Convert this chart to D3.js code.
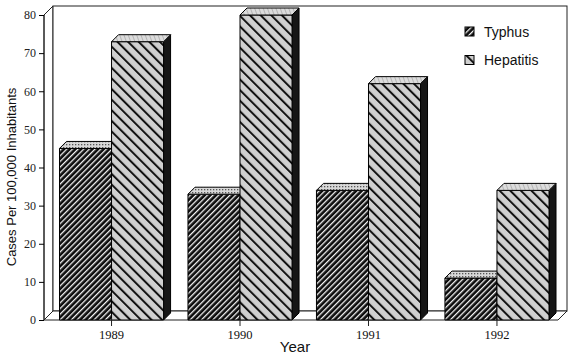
<!DOCTYPE html>
<html>
<head>
<meta charset="utf-8">
<script src="https://cdn.jsdelivr.net/npm/d3@7"></script>
<style>
  body { margin: 0; background: #fff; }
  svg { display: block; }
</style>
</head>
<body>
<script>
// chart data
var years = ['1989', '1990', '1991', '1992'];
var seriesNames = ['Typhus', 'Hepatitis'];
var typhus = [45, 33, 34, 11];
var hepatitis = [73, 80, 62, 34];
var yTicks = [0, 10, 20, 30, 40, 50, 60, 70, 80];

var W = 573, H = 360;
var wallD = 9;   // depth of the back wall
var barD = 7;    // depth of each bar

var svg = d3.select('body').append('svg').attr('width', W).attr('height', H);
var defs = svg.append('defs');

// patterns
var p = defs.append('pattern').attr('id', 'tyFront').attr('patternUnits', 'userSpaceOnUse')
  .attr('width', 4).attr('height', 4).attr('patternTransform', 'rotate(45)');
p.append('rect').attr('width', 4).attr('height', 4).attr('fill', '#0c0c0c');
p.append('rect').attr('x', 0).attr('width', 1.3).attr('height', 4).attr('fill', '#f4f4f4');

p = defs.append('pattern').attr('id', 'tyTop').attr('patternUnits', 'userSpaceOnUse')
  .attr('width', 3).attr('height', 3);
p.append('rect').attr('width', 3).attr('height', 3).attr('fill', '#d8d8d8');
p.append('rect').attr('width', 1.3).attr('height', 1.3).attr('fill', '#555');

p = defs.append('pattern').attr('id', 'hepFront').attr('patternUnits', 'userSpaceOnUse')
  .attr('width', 7.5).attr('height', 7.5).attr('patternTransform', 'rotate(-45)');
p.append('rect').attr('width', 7.5).attr('height', 7.5).attr('fill', '#d0d0d0');
p.append('rect').attr('x', 0).attr('width', 2).attr('height', 7.5).attr('fill', '#111');

p = defs.append('pattern').attr('id', 'hepTop').attr('patternUnits', 'userSpaceOnUse')
  .attr('width', 4).attr('height', 4).attr('patternTransform', 'rotate(-20)');
p.append('rect').attr('width', 4).attr('height', 4).attr('fill', '#dcdcdc');
p.append('rect').attr('width', 0.8).attr('height', 4).attr('fill', '#aaa');

var fills = {
  Typhus: { front: 'url(#tyFront)', top: 'url(#tyTop)', side: '#111' },
  Hepatitis: { front: 'url(#hepFront)', top: 'url(#hepTop)', side: '#161616' }
};

// scales
var y = d3.scaleLinear().domain([0, 80]).range([320, 15]);
var x0 = d3.scaleBand().domain(years).range([59.5, 549]).paddingInner(0.19).paddingOuter(0);
var x1 = d3.scaleBand().domain(seriesNames).range([0, x0.bandwidth()]);

var left = 44, right = 558;
var y0 = y(0), yTop = y(80);

// back wall, side wall, floor
var frame = svg.append('g').attr('fill', '#fff').attr('stroke', '#222').attr('stroke-width', 1);
frame.append('polygon').attr('points', [[left, yTop], [left + wallD, yTop - wallD], [left + wallD, y0 - wallD], [left, y0]].join(' '));
frame.append('rect').attr('x', left + wallD).attr('y', yTop - wallD)
  .attr('width', right - left).attr('height', y0 - yTop);
frame.append('polygon').attr('points', [[left, y0], [right, y0], [right + wallD, y0 - wallD], [left + wallD, y0 - wallD]].join(' '));

// bars
var rows = [];
years.forEach(function (yr, i) {
  rows.push({ year: yr, name: 'Typhus', v: typhus[i] });
  rows.push({ year: yr, name: 'Hepatitis', v: hepatitis[i] });
});

var bars = svg.append('g').attr('stroke', '#000').attr('stroke-width', 1).attr('stroke-linejoin', 'round');
rows.forEach(function (d) {
  var bx = x0(d.year) + x1(d.name), bw = x1.bandwidth();
  var ty = y(d.v), by = y0;
  var f = fills[d.name];
  var g = bars.append('g');
  g.append('polygon').attr('fill', f.side)
    .attr('points', [[bx + bw, ty], [bx + bw + barD, ty - barD], [bx + bw + barD, by - barD], [bx + bw, by]].join(' '));
  g.append('rect').attr('x', bx).attr('y', ty).attr('width', bw).attr('height', by - ty).attr('fill', f.front);
  g.append('polygon').attr('fill', f.top)
    .attr('points', [[bx, ty], [bx + barD, ty - barD], [bx + bw + barD, ty - barD], [bx + bw, ty]].join(' '));
});

// y axis
var yAxis = svg.append('g').attr('transform', 'translate(' + left + ',0)')
  .call(d3.axisLeft(y).tickValues(yTicks).tickSize(5).tickPadding(3));
yAxis.select('.domain').attr('stroke', '#222').attr('d', 'M0,' + y0 + 'V' + yTop);
yAxis.selectAll('text').attr('font-family', '"Liberation Serif", serif').attr('font-size', 12).attr('fill', '#222');

// x axis ticks at the middle of each group
var xAxis = svg.append('g').attr('transform', 'translate(0,' + y0 + ')');
xAxis.selectAll('line').data(years).join('line')
  .attr('x1', function (d) { return x0(d) + x1.bandwidth(); })
  .attr('x2', function (d) { return x0(d) + x1.bandwidth(); })
  .attr('y1', -2).attr('y2', 6).attr('stroke', '#222');
xAxis.selectAll('text').data(years).join('text')
  .attr('x', function (d) { return x0(d) + x1.bandwidth(); })
  .attr('y', 19).attr('text-anchor', 'middle')
  .attr('font-family', '"Liberation Serif", serif').attr('font-size', 12.5).attr('fill', '#111')
  .text(function (d) { return d; });

// axis titles
svg.append('text').attr('x', 295).attr('y', 352).attr('text-anchor', 'middle')
  .attr('font-family', '"Liberation Sans", Arial, sans-serif').attr('font-size', 15).attr('fill', '#111')
  .text('Year');
svg.append('text').attr('transform', 'translate(16,177) rotate(-90)').attr('text-anchor', 'middle')
  .attr('font-family', '"Liberation Sans", Arial, sans-serif').attr('font-size', 13).attr('fill', '#111')
  .text('Cases Per 100,000 Inhabitants');

// legend
var legend = svg.append('g').attr('transform', 'translate(465,27)');
seriesNames.forEach(function (name, i) {
  var row = legend.append('g').attr('transform', 'translate(0,' + (i * 28.5) + ')');
  row.append('rect').attr('width', 9).attr('height', 9).attr('fill', fills[name].front)
    .attr('stroke', '#000').attr('stroke-width', 1);
  row.append('text').attr('x', 19).attr('y', 9.5)
    .attr('font-family', '"Liberation Sans", Arial, sans-serif').attr('font-size', 14).attr('fill', '#111')
    .text(name);
});
</script>
</body>
</html>
